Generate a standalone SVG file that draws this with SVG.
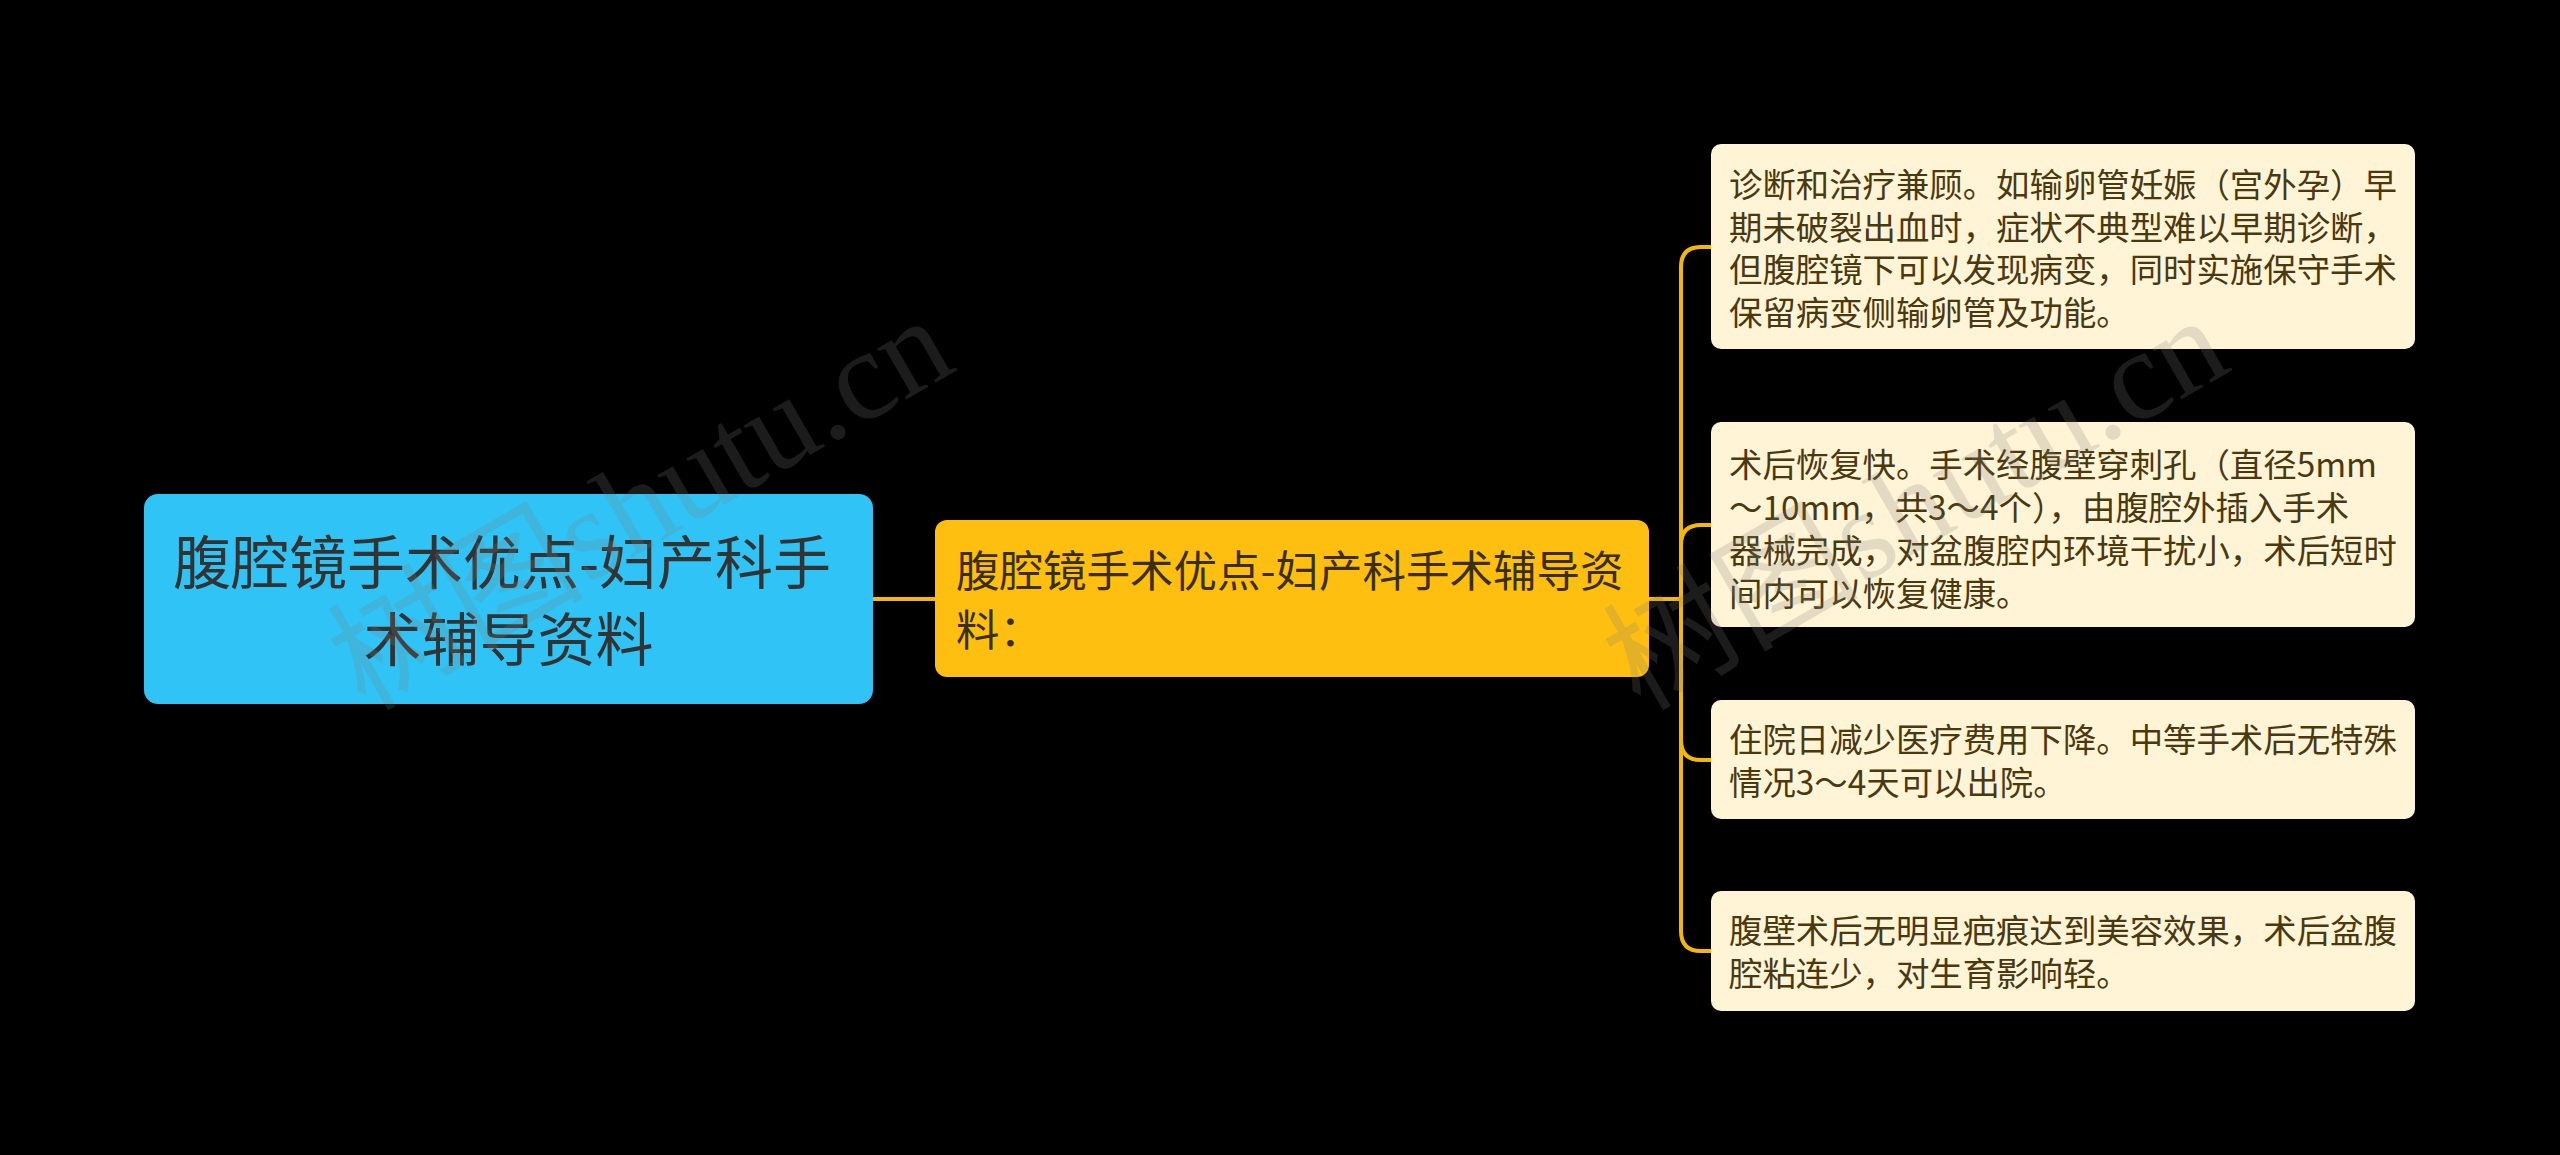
<svg xmlns="http://www.w3.org/2000/svg" width="2560" height="1155" viewBox="0 0 2560 1155">
  <style>
    .cjk { font-family: "Noto Sans CJK SC", "Noto Sans", sans-serif; }
    .root-box { fill: #2FC4F5; }
    .root-text { fill: #333333; font-size: 58px; }
    .mid-box { fill: #FFBF10; }
    .mid-text { fill: #3A2E0C; font-size: 43.5px; }
    .leaf-box { fill: #FFF4D6; }
    .leaf-text { fill: #4A380E; font-size: 33.4px; }
    .conn { fill: none; stroke: #F5B800; stroke-width: 4; stroke-linecap: round; stroke-linejoin: round; }
    .wm { font-family: "Liberation Serif", "Noto Sans CJK SC", serif; font-size: 128px; fill: #808080; fill-opacity: 0.22; }
  </style>
  <rect x="0" y="0" width="2560" height="1155" fill="#000000"/>

  <g id="connectors">
    <path class="conn" d="M873,599 H935"/>
    <path class="conn" d="M1649,599 H1681"/>
    <path class="conn" d="M1681,599 V267 Q1681,247 1701,247 H1711"/>
    <path class="conn" d="M1681,599 V545 Q1681,525 1701,525 H1711"/>
    <path class="conn" d="M1681,599 V740 Q1681,760 1701,760 H1711"/>
    <path class="conn" d="M1681,599 V931 Q1681,951 1701,951 H1711"/>
  </g>

  <g id="root">
    <rect class="root-box" x="144" y="494" width="729" height="210" rx="14"/>
    <text class="cjk root-text" text-anchor="middle">
      <tspan x="508.5" y="584">腹腔镜手术优点-妇产科手</tspan>
      <tspan x="508.5" y="661">术辅导资料</tspan>
    </text>
  </g>

  <g id="middle">
    <rect class="mid-box" x="935" y="520" width="714" height="157" rx="12"/>
    <text class="cjk mid-text">
      <tspan x="956" y="586.5">腹腔镜手术优点-妇产科手术辅导资</tspan>
      <tspan x="956" y="645.5">料：</tspan>
    </text>
  </g>

  <g id="leaf1">
    <rect class="leaf-box" x="1711" y="144" width="704" height="205" rx="10"/>
    <text class="cjk leaf-text">
      <tspan x="1729" y="197">诊断和治疗兼顾。如输卵管妊娠（宫外孕）早</tspan>
      <tspan x="1729" y="239.5">期未破裂出血时，症状不典型难以早期诊断，</tspan>
      <tspan x="1729" y="282">但腹腔镜下可以发现病变，同时实施保守手术</tspan>
      <tspan x="1729" y="324.5">保留病变侧输卵管及功能。</tspan>
    </text>
  </g>

  <g id="leaf2">
    <rect class="leaf-box" x="1711" y="422" width="704" height="205" rx="10"/>
    <text class="cjk leaf-text">
      <tspan x="1729" y="477">术后恢复快。手术经腹壁穿刺孔（直径5mm</tspan>
      <tspan x="1729" y="520">～10mm，共3～4个），由腹腔外插入手术</tspan>
      <tspan x="1729" y="563">器械完成，对盆腹腔内环境干扰小，术后短时</tspan>
      <tspan x="1729" y="606">间内可以恢复健康。</tspan>
    </text>
  </g>

  <g id="leaf3">
    <rect class="leaf-box" x="1711" y="700" width="704" height="119" rx="10"/>
    <text class="cjk leaf-text">
      <tspan x="1729" y="752">住院日减少医疗费用下降。中等手术后无特殊</tspan>
      <tspan x="1729" y="795">情况3～4天可以出院。</tspan>
    </text>
  </g>

  <g id="leaf4">
    <rect class="leaf-box" x="1711" y="891" width="704" height="120" rx="10"/>
    <text class="cjk leaf-text">
      <tspan x="1729" y="943">腹壁术后无明显疤痕达到美容效果，术后盆腹</tspan>
      <tspan x="1729" y="986">腔粘连少，对生育影响轻。</tspan>
    </text>
  </g>

  <g id="watermarks">
    <text class="wm" transform="translate(365,712) rotate(-30)">树图shutu.cn</text>
    <text class="wm" transform="translate(1640,712) rotate(-30)">树图shutu.cn</text>
  </g>
</svg>
